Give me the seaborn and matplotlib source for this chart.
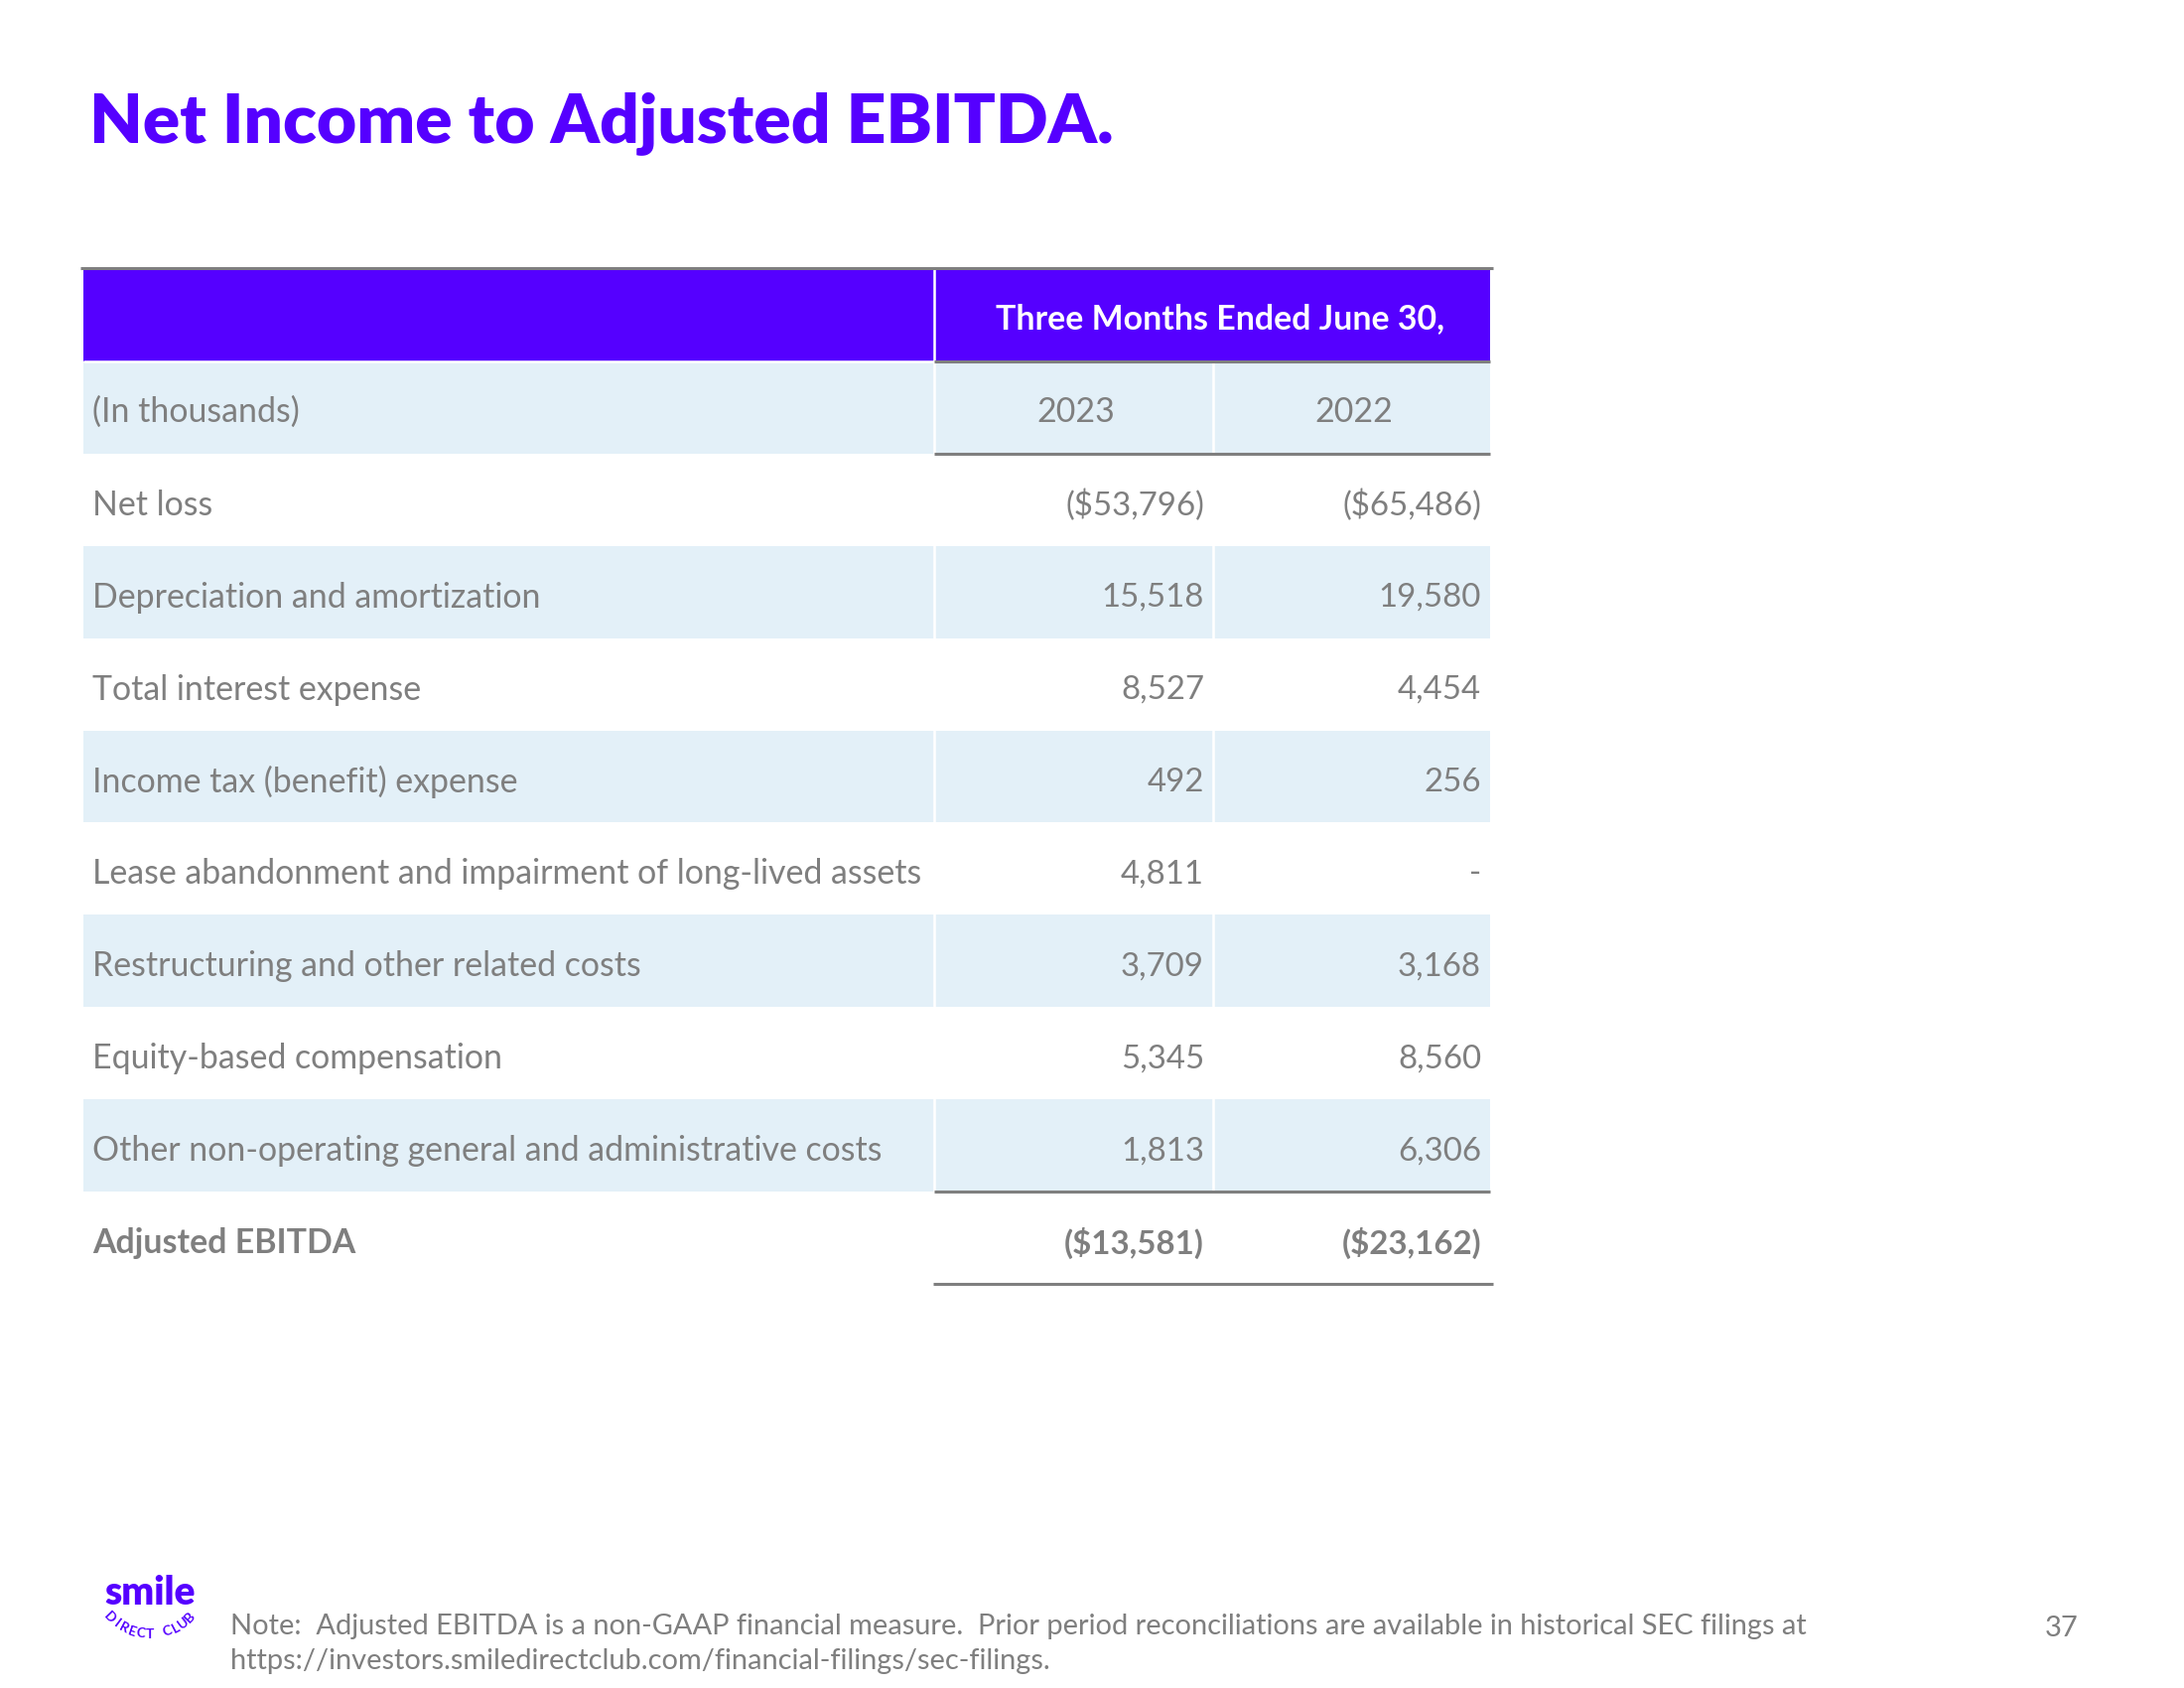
import numpy as np
import matplotlib
matplotlib.use("Agg")
import matplotlib.pyplot as plt
from matplotlib.colors import ListedColormap
import seaborn as sns

# ---------------- data ----------------
title = "Net Income to Adjusted EBITDA."
header_text = "Three Months Ended June 30,"
unit_label = "(In thousands)"
years = ["2023", "2022"]
line_items = [
    "Net loss",
    "Depreciation and amortization",
    "Total interest expense",
    "Income tax (benefit) expense",
    "Lease abandonment and impairment of long-lived assets",
    "Restructuring and other related costs",
    "Equity-based compensation",
    "Other non-operating general and administrative costs",
    "Adjusted EBITDA",
]
values_2023 = [-53796, 15518, 8527, 492, 4811, 3709, 5345, 1813, -13581]
values_2022 = [-65486, 19580, 4454, 256, None, 3168, 8560, 6306, -23162]
note_lines = [
    "Note:  Adjusted EBITDA is a non-GAAP financial measure.  Prior period reconciliations are available in historical SEC filings at",
    "https://investors.smiledirectclub.com/financial-filings/sec-filings.",
]
page_number = "37"

# ---------------- style ----------------
PURPLE = "#5500FF"
LIGHT = "#E3F0F8"
GRAY_TXT = "#7F7F7F"
GRAY_LINE = "#7F7F7F"

sns.set_theme(style="white")
plt.rcParams["font.family"] = ["Lato", "DejaVu Sans"]

W, H = 2200, 1700
DPI = 200
fig = plt.figure(figsize=(W / DPI, H / DPI), dpi=DPI)
fig.patch.set_facecolor("white")


def fx(px):
    return px / W


def fy(py):
    return 1 - py / H


def fmt(v):
    if v is None:
        return "-"
    if v < 0:
        return "(${:,})".format(-v)
    return "{:,}".format(v)


# table axes (x in pixel-like units across the table width)
tab_left, tab_right, tab_top, tab_bottom = 84, 1501, 271, 1293
ax = fig.add_axes([fx(tab_left), fy(tab_bottom), fx(tab_right - tab_left),
                   (tab_bottom - tab_top) / H])

col_edges = np.array([0, 857, 1138, 1417])
n_rows = 2 + len(line_items)
row_edges = np.arange(n_rows + 1)
shade = np.zeros((n_rows, len(col_edges) - 1))
shade[0, :] = 2
for r in range(1, n_rows):
    if r % 2 == 1:
        shade[r, :] = 1

ax.pcolormesh(col_edges, row_edges, shade,
              cmap=ListedColormap(["white", LIGHT, PURPLE]),
              vmin=-0.5, vmax=2.5, shading="flat")
ax.set_xlim(col_edges[0], col_edges[-1])
ax.set_ylim(n_rows, 0)
ax.set_xticks([])
ax.set_yticks([])
for s in ax.spines.values():
    s.set_visible(False)

x1, x2, x3 = col_edges[1], col_edges[2], col_edges[3]
# white dividers
ax.vlines(x1, 0, n_rows - 1, color="white", lw=0.9)
ax.vlines(x2, 1, n_rows - 1, color="white", lw=0.9)
ax.hlines(1, 0, x1, color="white", lw=0.9)

# gray rules
lw = 1.1
ext = 3
ax.hlines(-0.015, -ext, x3 + ext, color=GRAY_LINE, lw=lw, clip_on=False)
ax.hlines(1, x1, x3, color=GRAY_LINE, lw=lw, clip_on=False)
ax.hlines(2, x1, x3, color=GRAY_LINE, lw=lw, clip_on=False)
ax.hlines(n_rows - 1, x1, x3, color=GRAY_LINE, lw=lw, clip_on=False)
ax.hlines(n_rows, x1 - 1, x3 + ext, color=GRAY_LINE, lw=lw, clip_on=False)

FS = 12.2
FSN = 11.9
pad_l = 9
pad_r = 9
# header
ax.text((x1 + x3) / 2 + 8, 0.54, header_text, color="white", fontsize=12.2,
        fontweight="bold", ha="center", va="center")
# years row
ax.text(pad_l, 1.55, unit_label, color=GRAY_TXT, fontsize=FS, ha="left", va="center")
for j, y in enumerate(years):
    ax.text((col_edges[1 + j] + col_edges[2 + j]) / 2 + 2, 1.55, y, color=GRAY_TXT,
            fontsize=FS, ha="center", va="center")

# body rows
for i, item in enumerate(line_items):
    r = 2 + i + 0.56
    bold = (i == len(line_items) - 1)
    wt = "bold" if bold else "normal"
    ax.text(pad_l, r, item, color=GRAY_TXT, fontsize=FS, fontweight=wt,
            ha="left", va="center")
    ax.text(x2 - pad_r, r, fmt(values_2023[i]), color=GRAY_TXT, fontsize=FSN,
            fontweight=wt, ha="right", va="center")
    ax.text(x3 - pad_r, r, fmt(values_2022[i]), color=GRAY_TXT, fontsize=FSN,
            fontweight=wt, ha="right", va="center")

# title
fig.text(fx(90), fy(124), title, color=PURPLE, fontsize=25, fontweight="heavy",
         ha="left", va="center")

# footer note
fig.text(fx(232), fy(1638), note_lines[0], color=GRAY_TXT, fontsize=10.45,
         ha="left", va="center")
fig.text(fx(232), fy(1673), note_lines[1], color=GRAY_TXT, fontsize=10.45,
         ha="left", va="center")
fig.text(fx(2077), fy(1640), page_number, color=GRAY_TXT, fontsize=10.5,
         ha="center", va="center")

# logo
fig.text(fx(151), fy(1604), "smile", color=PURPLE, fontsize=14, fontweight="heavy",
         ha="center", va="center")
arc_text = "DIRECT CLUB"
cx, cy, rad = 151, 1590, 56
angles = np.linspace(224, 316, len(arc_text))
for ch, a in zip(arc_text, angles):
    px = cx + rad * np.cos(np.radians(a))
    py = cy - rad * np.sin(np.radians(a))
    fig.text(fx(px), fy(py), ch, color=PURPLE, fontsize=5, fontweight="bold",
             ha="center", va="center", rotation=a - 270)

fig.savefig("out.png", dpi=DPI, facecolor="white")
